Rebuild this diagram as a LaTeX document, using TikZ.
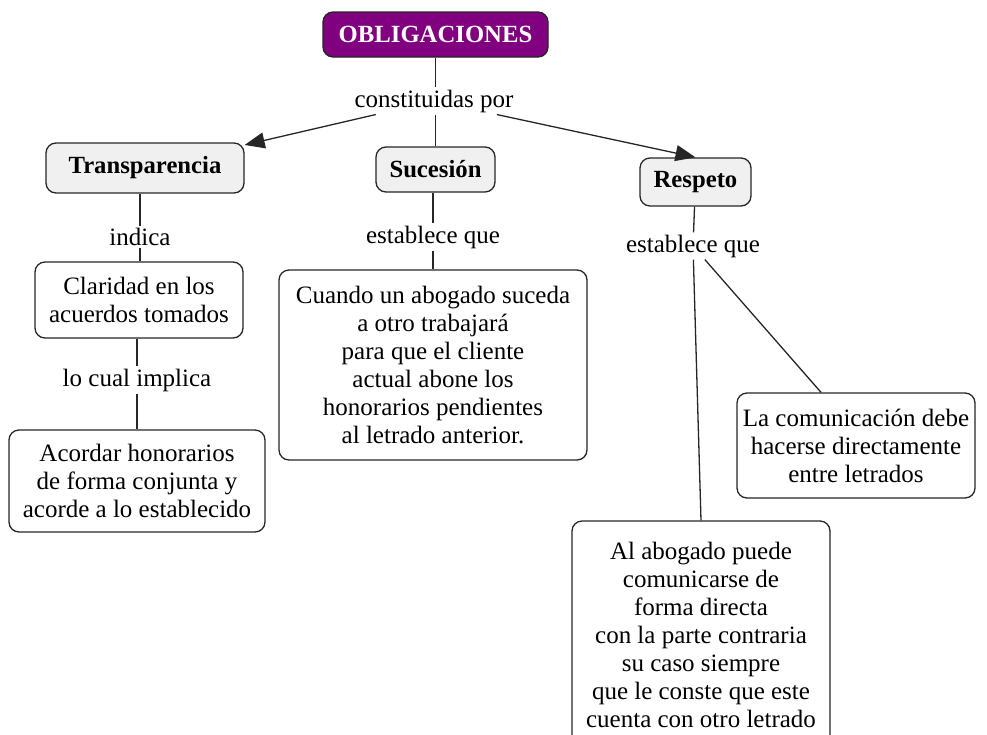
\documentclass[tikz,border=0pt]{standalone}
\usepackage{fontspec}
\setmainfont{Liberation Serif}
\usetikzlibrary{arrows.meta}
\definecolor{concept}{HTML}{F0F0F0}
\definecolor{topc}{HTML}{800080}
\begin{document}
\begin{tikzpicture}[x=1pt,y=-1pt,
  base/.style={draw=black!85,line width=1.3pt,rounded corners=10pt,align=center,inner sep=0pt},
  topbox/.style={base,fill=topc,text=white,font=\fontsize{24.7}{28}\selectfont\bfseries},
  conc/.style={base,fill=concept,font=\fontsize{24.7}{28}\selectfont\bfseries},
  txt/.style={base,fill=white,font=\fontsize{25}{28}\selectfont},
  lbl/.style={fill=white,inner sep=2pt,font=\fontsize{25}{28}\selectfont},
  conn/.style={line width=1.3pt,draw=black!85},
  arr/.style={conn,-{Triangle[length=20pt,width=16pt]}}]
\clip (0,0) rectangle (987,734);
\useasboundingbox (0,0) rectangle (987,734);

\node[topbox,minimum width=225,minimum height=45] (obl) at (435.5,34.5) {OBLIGACIONES};
\node[lbl] (c1) at (434,101) {constituidas por};
\node[conc,minimum width=198,minimum height=50] (trans) at (145,168) {Transparencia};
\node[conc,minimum width=119,minimum height=45] (suc) at (435.5,169.5) {Sucesión};
\node[conc,minimum width=111,minimum height=48] (resp) at (695.5,182) {Respeto};

\node[lbl] (i1) at (140,237) {indica};
\node[txt,minimum width=208,minimum height=76] (clar) at (139,300) {Claridad en los\\acuerdos tomados};
\node[lbl] (l1) at (137,380) {lo cual implica};
\node[txt,minimum width=256,minimum height=102] (acor) at (137,481) {Acordar honorarios\\de forma conjunta y\\acorde a lo establecido};

\node[lbl] (e1) at (433,237) {establece que};
\node[txt,minimum width=308,minimum height=190] (cuan) at (433,365) {Cuando un abogado suceda\\a otro trabajará\\para que el cliente\\actual abone los\\honorarios pendientes\\al letrado anterior.};

\node[lbl] (e2) at (693,246) {establece que};
\node[txt,minimum width=238,minimum height=105] (com) at (856,445.5) {La comunicación debe\\hacerse directamente\\entre letrados};
\node[txt,minimum width=258,minimum height=228] (abo) at (701,635) {Al abogado puede\\comunicarse de\\forma directa\\con la parte contraria\\su caso siempre\\que le conste que este\\cuenta con otro letrado};

\draw[conn] (obl) -- (obl.south |- c1.north);
\draw[conn] (c1.south -| suc.north) -- (suc);
\draw[arr] (c1) -- (trans);
\draw[arr] (c1) -- (resp.north);

\draw[conn] (i1.north) -- (i1.north |- trans.south);
\draw[conn] (i1.south) -- (i1.south |- clar.north);
\draw[conn] (l1.north) -- (l1.north |- clar.south);
\draw[conn] (l1.south) -- (l1.south |- acor.north);

\draw[conn] (e1.north) -- (e1.north |- suc.south);
\draw[conn] (e1.south) -- (e1.south |- cuan.north);

\draw[conn] (resp) -- (e2);
\draw[conn] (e2) -- ([xshift=-35pt]com.north);
\draw[conn] (e2) -- (abo.north);
\end{tikzpicture}
\end{document}
